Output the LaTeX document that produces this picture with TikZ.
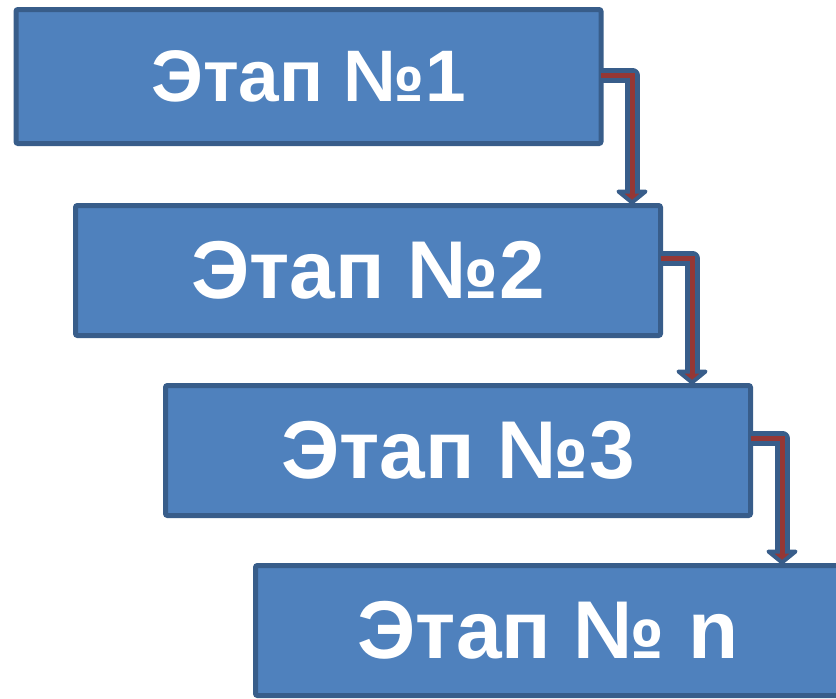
\documentclass[tikz,border=0pt]{standalone}
\usepackage{fontspec}
\setmainfont{Liberation Sans}
\usetikzlibrary{calc}
\definecolor{boxfill}{HTML}{4F81BD}
\definecolor{boxline}{HTML}{385D8A}
\definecolor{arrred}{HTML}{953735}
\begin{document}
\begin{tikzpicture}[x=1pt,y=-1pt,
  stagebox/.style={rectangle, draw=boxline, fill=boxfill, line width=5pt,
    rounded corners=2pt, minimum width=585pt, minimum height=130pt,
    inner sep=0pt, outer sep=0pt, text=white,
    font=\bfseries\fontsize{82}{90}\selectfont},
  shaftout/.style={draw=boxline, line width=15pt, line join=round},
  shaftin/.style={draw=arrred, line width=5pt, line join=miter},
  headtip/.style={draw=boxline, fill=arrred, line width=4pt, line join=round}]
\useasboundingbox (0,0) rectangle (836,699);
\clip (0,0) rectangle (836,699);
\node[stagebox, minimum height=134pt, font=\bfseries\fontsize{73}{80}\selectfont] (s1) at (308.5,76.5) {Этап №1};
\node[stagebox] (s2) at (368,270.5) {Этап №2};
\node[stagebox] (s3) at (458,450.5) {Этап №3};
\node[stagebox] (s4) at (548,630.5) {Этап № n};
\foreach \a/\b/\kx/\ky in {s1/s2/632/75, s2/s3/692/258, s3/s4/782/438} {
  \coordinate (k) at (\kx,\ky);
  \coordinate (t) at ($(k |- \b.north)+(0,-3)$);
  \draw[shaftout] (\a.east |- k) -- (k) -- ($(t)+(0,-11)$);
  \filldraw[headtip] ($(t)+(-13.5,-11)$) -- (t) -- ($(t)+(13.5,-11)$) -- cycle;
  \draw[shaftin] (\a.east |- k) -- (k) -- ($(t)+(0,-8)$);
}
\end{tikzpicture}
\end{document}
